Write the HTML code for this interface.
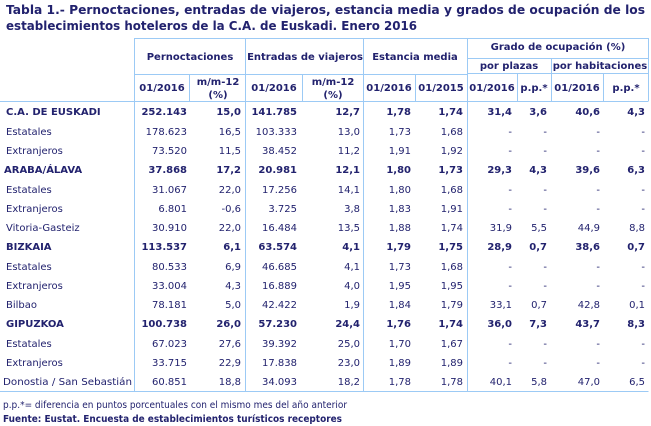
<!DOCTYPE html>
<html><head><meta charset="utf-8"><style>
html,body{margin:0;padding:0;background:#fff;width:651px;height:426px;overflow:hidden}
svg{display:block;font-family:"DejaVu Sans","Liberation Sans",sans-serif}
text{fill:#22226e;font-size:10px}
.b{font-weight:bold}
.e{text-anchor:end}
.m{text-anchor:middle}
</style></head><body>
<svg width="651" height="426" viewBox="0 0 651 426">
<g stroke="#9ccaf5" stroke-width="1" fill="none" shape-rendering="crispEdges">
<line x1="134.5" y1="38.5" x2="648.5" y2="38.5"/>
<line x1="134.5" y1="74.5" x2="467" y2="74.5"/>
<line x1="467" y1="73.5" x2="648.5" y2="73.5"/>
<line x1="467" y1="58.5" x2="648.5" y2="58.5"/>
<line x1="0" y1="101.5" x2="648.5" y2="101.5"/>
<line x1="0" y1="391.5" x2="648.5" y2="391.5"/>
<line x1="134.5" y1="38" x2="134.5" y2="392"/>
<line x1="245.5" y1="38" x2="245.5" y2="392"/>
<line x1="363.5" y1="38" x2="363.5" y2="392"/>
<line x1="467.5" y1="38" x2="467.5" y2="392"/>
<line x1="648.5" y1="38" x2="648.5" y2="101"/>
<line x1="189.5" y1="74" x2="189.5" y2="101"/>
<line x1="302.5" y1="74" x2="302.5" y2="101"/>
<line x1="415.5" y1="74" x2="415.5" y2="101"/>
<line x1="517.5" y1="74" x2="517.5" y2="101"/>
<line x1="551.5" y1="58" x2="551.5" y2="101"/>
<line x1="603.5" y1="74" x2="603.5" y2="101"/>
</g>
<text class="b" x="6" y="14" style="font-size:12.5px" textLength="639" lengthAdjust="spacingAndGlyphs">Tabla 1.- Pernoctaciones, entradas de viajeros, estancia media y grados de ocupación de los</text>
<text class="b" x="6" y="30" style="font-size:12.5px" textLength="411" lengthAdjust="spacingAndGlyphs">establecimientos hoteleros de la C.A. de Euskadi. Enero 2016</text>
<g class="b">
<text class="b m" x="190" y="60">Pernoctaciones</text>
<text class="b m" x="305" y="60">Entradas de viajeros</text>
<text class="b m" x="415" y="60">Estancia media</text>
<text class="b m" x="558" y="50">Grado de ocupación (%)</text>
<text class="b m" x="509" y="69">por plazas</text>
<text class="b m" x="600" y="69">por habitaciones</text>
<text class="b m" x="162" y="91">01/2016</text>
<text class="b m" x="218" y="85">m/m-12</text>
<text class="b m" x="218" y="98">(%)</text>
<text class="b m" x="274" y="91">01/2016</text>
<text class="b m" x="333" y="85">m/m-12</text>
<text class="b m" x="333" y="98">(%)</text>
<text class="b m" x="389" y="91">01/2016</text>
<text class="b m" x="441" y="91">01/2015</text>
<text class="b m" x="492" y="91">01/2016</text>
<text class="b m" x="534" y="91">p.p.*</text>
<text class="b m" x="577" y="91">01/2016</text>
<text class="b m" x="626" y="91">p.p.*</text>
</g>
<!-- rows -->
<g>
<text class="b" x="6" y="115">C.A. DE EUSKADI</text>
<text class="b e" x="187" y="115">252.143</text><text class="b e" x="241" y="115">15,0</text><text class="b e" x="297" y="115">141.785</text><text class="b e" x="360" y="115">12,7</text><text class="b e" x="411" y="115">1,78</text><text class="b e" x="463" y="115">1,74</text><text class="b e" x="512" y="115">31,4</text><text class="b e" x="547" y="115">3,6</text><text class="b e" x="600" y="115">40,6</text><text class="b e" x="645" y="115">4,3</text>

<text x="6" y="135">Estatales</text>
<text class="e" x="187" y="135">178.623</text><text class="e" x="241" y="135">16,5</text><text class="e" x="297" y="135">103.333</text><text class="e" x="360" y="135">13,0</text><text class="e" x="411" y="135">1,73</text><text class="e" x="463" y="135">1,68</text><text class="e" x="512" y="135">-</text><text class="e" x="547" y="135">-</text><text class="e" x="600" y="135">-</text><text class="e" x="645" y="135">-</text>

<text x="6" y="154">Extranjeros</text>
<text class="e" x="187" y="154">73.520</text><text class="e" x="241" y="154">11,5</text><text class="e" x="297" y="154">38.452</text><text class="e" x="360" y="154">11,2</text><text class="e" x="411" y="154">1,91</text><text class="e" x="463" y="154">1,92</text><text class="e" x="512" y="154">-</text><text class="e" x="547" y="154">-</text><text class="e" x="600" y="154">-</text><text class="e" x="645" y="154">-</text>

<text class="b" x="4" y="173">ARABA/ÁLAVA</text>
<text class="b e" x="187" y="173">37.868</text><text class="b e" x="241" y="173">17,2</text><text class="b e" x="297" y="173">20.981</text><text class="b e" x="360" y="173">12,1</text><text class="b e" x="411" y="173">1,80</text><text class="b e" x="463" y="173">1,73</text><text class="b e" x="512" y="173">29,3</text><text class="b e" x="547" y="173">4,3</text><text class="b e" x="600" y="173">39,6</text><text class="b e" x="645" y="173">6,3</text>

<text x="6" y="193">Estatales</text>
<text class="e" x="187" y="193">31.067</text><text class="e" x="241" y="193">22,0</text><text class="e" x="297" y="193">17.256</text><text class="e" x="360" y="193">14,1</text><text class="e" x="411" y="193">1,80</text><text class="e" x="463" y="193">1,68</text><text class="e" x="512" y="193">-</text><text class="e" x="547" y="193">-</text><text class="e" x="600" y="193">-</text><text class="e" x="645" y="193">-</text>

<text x="6" y="212">Extranjeros</text>
<text class="e" x="187" y="212">6.801</text><text class="e" x="241" y="212">-0,6</text><text class="e" x="297" y="212">3.725</text><text class="e" x="360" y="212">3,8</text><text class="e" x="411" y="212">1,83</text><text class="e" x="463" y="212">1,91</text><text class="e" x="512" y="212">-</text><text class="e" x="547" y="212">-</text><text class="e" x="600" y="212">-</text><text class="e" x="645" y="212">-</text>

<text x="6" y="231">Vitoria-Gasteiz</text>
<text class="e" x="187" y="231">30.910</text><text class="e" x="241" y="231">22,0</text><text class="e" x="297" y="231">16.484</text><text class="e" x="360" y="231">13,5</text><text class="e" x="411" y="231">1,88</text><text class="e" x="463" y="231">1,74</text><text class="e" x="512" y="231">31,9</text><text class="e" x="547" y="231">5,5</text><text class="e" x="600" y="231">44,9</text><text class="e" x="645" y="231">8,8</text>

<text class="b" x="6" y="250">BIZKAIA</text>
<text class="b e" x="187" y="250">113.537</text><text class="b e" x="241" y="250">6,1</text><text class="b e" x="297" y="250">63.574</text><text class="b e" x="360" y="250">4,1</text><text class="b e" x="411" y="250">1,79</text><text class="b e" x="463" y="250">1,75</text><text class="b e" x="512" y="250">28,9</text><text class="b e" x="547" y="250">0,7</text><text class="b e" x="600" y="250">38,6</text><text class="b e" x="645" y="250">0,7</text>

<text x="6" y="270">Estatales</text>
<text class="e" x="187" y="270">80.533</text><text class="e" x="241" y="270">6,9</text><text class="e" x="297" y="270">46.685</text><text class="e" x="360" y="270">4,1</text><text class="e" x="411" y="270">1,73</text><text class="e" x="463" y="270">1,68</text><text class="e" x="512" y="270">-</text><text class="e" x="547" y="270">-</text><text class="e" x="600" y="270">-</text><text class="e" x="645" y="270">-</text>

<text x="6" y="289">Extranjeros</text>
<text class="e" x="187" y="289">33.004</text><text class="e" x="241" y="289">4,3</text><text class="e" x="297" y="289">16.889</text><text class="e" x="360" y="289">4,0</text><text class="e" x="411" y="289">1,95</text><text class="e" x="463" y="289">1,95</text><text class="e" x="512" y="289">-</text><text class="e" x="547" y="289">-</text><text class="e" x="600" y="289">-</text><text class="e" x="645" y="289">-</text>

<text x="6" y="308">Bilbao</text>
<text class="e" x="187" y="308">78.181</text><text class="e" x="241" y="308">5,0</text><text class="e" x="297" y="308">42.422</text><text class="e" x="360" y="308">1,9</text><text class="e" x="411" y="308">1,84</text><text class="e" x="463" y="308">1,79</text><text class="e" x="512" y="308">33,1</text><text class="e" x="547" y="308">0,7</text><text class="e" x="600" y="308">42,8</text><text class="e" x="645" y="308">0,1</text>

<text class="b" x="6" y="327">GIPUZKOA</text>
<text class="b e" x="187" y="327">100.738</text><text class="b e" x="241" y="327">26,0</text><text class="b e" x="297" y="327">57.230</text><text class="b e" x="360" y="327">24,4</text><text class="b e" x="411" y="327">1,76</text><text class="b e" x="463" y="327">1,74</text><text class="b e" x="512" y="327">36,0</text><text class="b e" x="547" y="327">7,3</text><text class="b e" x="600" y="327">43,7</text><text class="b e" x="645" y="327">8,3</text>

<text x="6" y="347">Estatales</text>
<text class="e" x="187" y="347">67.023</text><text class="e" x="241" y="347">27,6</text><text class="e" x="297" y="347">39.392</text><text class="e" x="360" y="347">25,0</text><text class="e" x="411" y="347">1,70</text><text class="e" x="463" y="347">1,67</text><text class="e" x="512" y="347">-</text><text class="e" x="547" y="347">-</text><text class="e" x="600" y="347">-</text><text class="e" x="645" y="347">-</text>

<text x="6" y="366">Extranjeros</text>
<text class="e" x="187" y="366">33.715</text><text class="e" x="241" y="366">22,9</text><text class="e" x="297" y="366">17.838</text><text class="e" x="360" y="366">23,0</text><text class="e" x="411" y="366">1,89</text><text class="e" x="463" y="366">1,89</text><text class="e" x="512" y="366">-</text><text class="e" x="547" y="366">-</text><text class="e" x="600" y="366">-</text><text class="e" x="645" y="366">-</text>

<text x="3" y="385" textLength="129" lengthAdjust="spacingAndGlyphs">Donostia / San Sebastián</text>
<text class="e" x="187" y="385">60.851</text><text class="e" x="241" y="385">18,8</text><text class="e" x="297" y="385">34.093</text><text class="e" x="360" y="385">18,2</text><text class="e" x="411" y="385">1,78</text><text class="e" x="463" y="385">1,78</text><text class="e" x="512" y="385">40,1</text><text class="e" x="547" y="385">5,8</text><text class="e" x="600" y="385">47,0</text><text class="e" x="645" y="385">6,5</text>
</g>
<text x="3" y="408" style="font-size:9.5px" textLength="344" lengthAdjust="spacingAndGlyphs">p.p.*= diferencia en puntos porcentuales con el mismo mes del año anterior</text>
<text class="b" x="3" y="422" style="font-size:9.5px" textLength="339" lengthAdjust="spacingAndGlyphs">Fuente: Eustat. Encuesta de establecimientos turísticos receptores</text>
</svg>
</body></html>
